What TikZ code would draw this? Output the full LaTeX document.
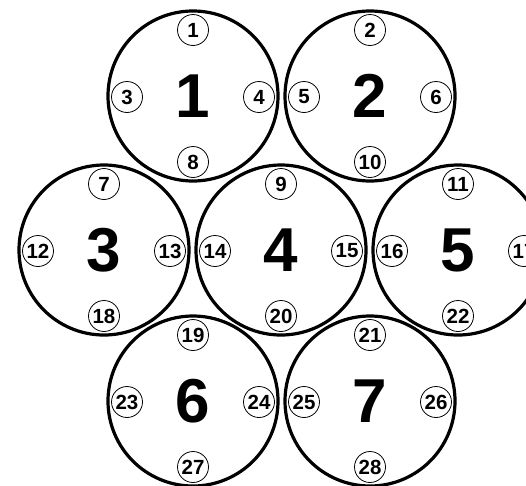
\documentclass[tikz,border=0pt]{standalone}
\usepackage{fontspec}
\setmainfont{Liberation Sans}
\usetikzlibrary{calc}
\begin{document}
\begin{tikzpicture}[x=1pt,y=-1pt,
  big/.style={circle, draw, line width=3.2pt, minimum size=170pt, inner sep=0pt,
    font=\fontsize{62}{62}\selectfont\bfseries},
  small/.style={circle, draw, line width=0.8pt, minimum size=31pt, inner sep=0pt,
    font=\fontsize{20.5}{20.5}\selectfont\bfseries}]
\useasboundingbox (0,0) rectangle (526,485);
\clip (0,0) rectangle (526,485);
\fill[white] (0,0) rectangle (526,485);
\foreach \i/\x/\y/\t/\l/\r/\b in {1/193/96/1/3/4/8, 2/370/96/2/5/6/10,
  3/104/250/7/12/13/18, 4/281/250/9/14/15/20, 5/458/250/11/16/17/22,
  6/193/401/19/23/24/27, 7/370/401/21/25/26/28} {
  \node[big] (b\i) at (\x,\y) {\i};
  \node[small] (s\t) at ($(b\i)+(0,-66)$) {\t};
  \node[small] (s\l) at ($(b\i)+(-66,1)$) {\l};
  \node[small] (s\r) at ($(b\i)+(66,1)$) {\r};
  \node[small] (s\b) at ($(b\i)+(0,66)$) {\b};
}
\end{tikzpicture}
\end{document}
